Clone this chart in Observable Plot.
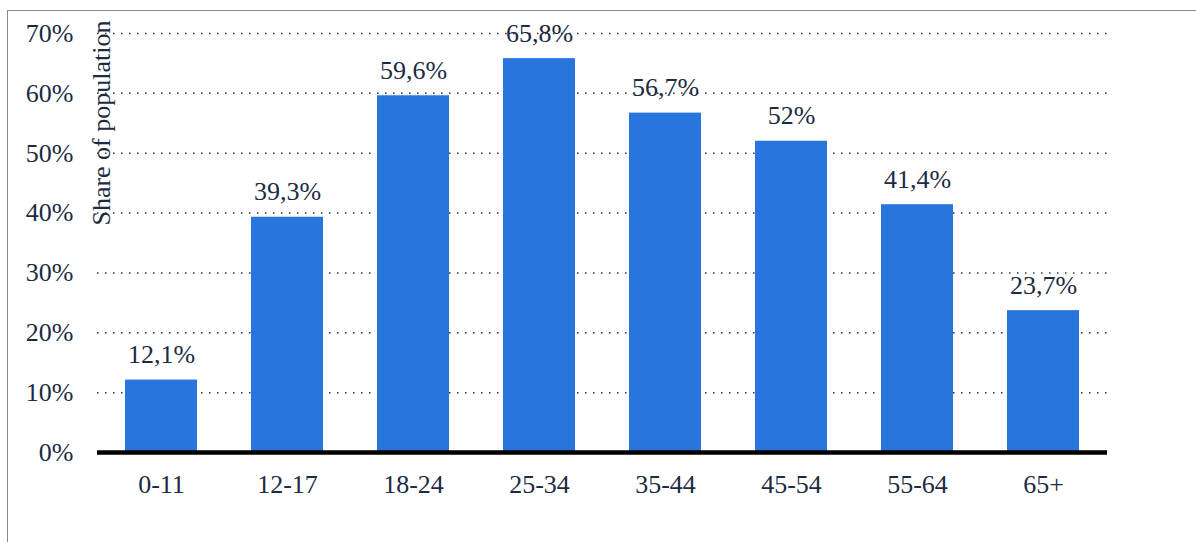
<!DOCTYPE html>
<html>
<head>
<meta charset="utf-8">
<script src="https://cdn.jsdelivr.net/npm/d3@7"></script>
<script src="https://cdn.jsdelivr.net/npm/@observablehq/plot@0.6"></script>
<style>
  html, body { margin: 0; padding: 0; background: #fff; }
  #wrap { position: relative; width: 1196px; height: 542px; overflow: hidden; }
  #frame { position: absolute; left: 7px; top: 10px; right: -2px; bottom: -2px;
           border-left: 1.5px solid #8a8a8a; border-top: 1.5px solid #8a8a8a; pointer-events: none; }
  #chart { position: absolute; left: 0; top: 0; }
</style>
</head>
<body>
<div id="wrap"><div id="frame"></div><div id="chart"></div></div>
<script>
const categories = ["0-11", "12-17", "18-24", "25-34", "35-44", "45-54", "55-64", "65+"];
const values = [12.1, 39.3, 59.6, 65.8, 56.7, 52, 41.4, 23.7];
const yTicks = [0, 10, 20, 30, 40, 50, 60, 70];
const yLabel = "Share of population";

const data = categories.map((c, i) => ({ cat: c, v: values[i] }));
const fmt = v => String(v).replace(".", ",") + "%";
const textColor = "#1c2b41";
const font = "Liberation Serif";
const fs = 26;

const chart = Plot.plot({
  width: 1196,
  height: 542,
  marginLeft: 97,
  marginRight: 89,
  marginTop: 33,
  marginBottom: 90,
  style: { background: "transparent", color: textColor, fontFamily: font },
  x: { domain: categories, paddingInner: 0.43, paddingOuter: 0.215 },
  y: { domain: [0, 70], ticks: yTicks },
  marks: [
    Plot.gridY(yTicks.filter(d => d > 0), { stroke: "#333", strokeOpacity: 1, strokeWidth: 1.5, strokeDasharray: "1.5,6.5" }),
    Plot.barY(data, { x: "cat", y: "v", fill: "#2876dd" }),
    Plot.ruleY([0], { stroke: "#000", strokeWidth: 4.5 }),
    Plot.axisY(yTicks, { tickSize: 0, tickPadding: 24, tickFormat: d => d + "%", label: null, fill: textColor, fontSize: fs, fontFamily: font }),
    Plot.axisX({ tickSize: 0, tickPadding: 22, label: null, fill: textColor, fontSize: fs, fontFamily: font }),
    Plot.text(data, { x: "cat", y: "v", text: d => fmt(d.v), dy: -17, lineAnchor: "bottom", fill: textColor, fontSize: fs, fontFamily: font }),
    Plot.text([yLabel], { frameAnchor: "top-left", text: d => d, rotate: -90, textAnchor: "end", lineAnchor: "middle", dx: 4, dy: -13, fill: textColor, fontSize: fs, fontFamily: font })
  ]
});
document.getElementById("chart").appendChild(chart);
</script>
</body>
</html>
